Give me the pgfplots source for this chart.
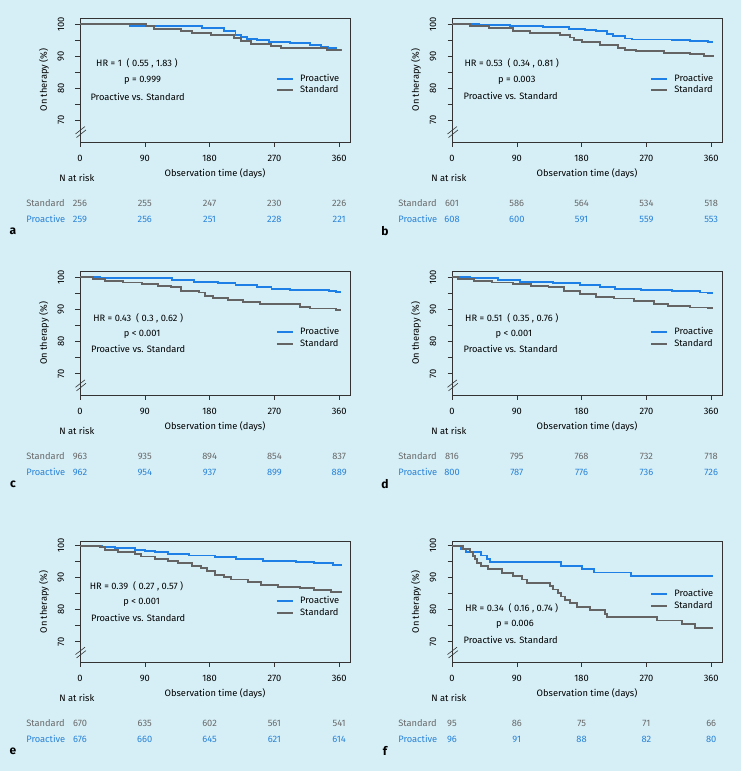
\documentclass[border=0pt]{standalone}
\usepackage{fontspec}
\setmainfont{Fira Sans}
\usepackage{pgfplots}
\pgfplotsset{compat=1.18}
\definecolor{bg}{RGB}{214,239,247}
\definecolor{pblue}{RGB}{30,128,230}
\definecolor{sgray}{RGB}{100,100,100}
\definecolor{tgray}{RGB}{105,105,105}
\definecolor{tblue}{RGB}{40,130,215}

\pgfplotsset{
 km/.style={
  scale only axis, width=270bp, height=124bp,
  xmin=0, xmax=375, ymin=63.2, ymax=101.9,
  clip=false,
  axis line style={draw=black!80, line width=0.7bp},
  tick style={draw=black!80, line width=0.6bp},
  tick align=outside, major tick length=4.5bp,
  xtick pos=bottom, ytick pos=left,
  xtick={0,90,180,270,360},
  ytick={70,75,80,85,90,95,100},
  yticklabels={70,,80,,90,,100},
  /pgf/number format/assume math mode=true,
  xticklabel style={yshift=-5.5bp},
  yticklabel style={xshift=-8bp, rotate=90, anchor=south},
  xlabel={Observation time (days)},
  ylabel={On therapy (\%)},
  xlabel style={at={([yshift=-31.5bp]axis description cs:0.5,0)}, anchor=center},
  ylabel style={at={([xshift=-36bp]axis description cs:0,0.5)}, anchor=center},
  legend image code/.code={\draw[##1] (0bp,0bp) -- (15.6bp,0bp);},
  legend cell align=left,
  legend style={draw=none, fill=none, inner sep=0pt, row sep=1.5bp,
    nodes={inner sep=0.6bp, text height=7bp, text depth=2bp},
    /tikz/every odd column/.append style={column sep=6bp}},
 },
 pro/.style={pblue, line width=1.9bp, const plot, no marks},
 std/.style={sgray, line width=1.9bp, const plot, no marks},
}

\newcommand\riskrow[8]{%
 \node[anchor=west,text=#1] at ([xshift=-57bp,yshift=-#2]axis cs:0,\ymn) {#3};
 \node[text=#1] at ([yshift=-#2]axis cs:0,\ymn) {#4};
 \node[text=#1] at ([yshift=-#2]axis cs:90,\ymn) {#5};
 \node[text=#1] at ([yshift=-#2]axis cs:180,\ymn) {#6};
 \node[text=#1] at ([yshift=-#2]axis cs:270,\ymn) {#7};
 \node[text=#1] at ([yshift=-#2]axis cs:360,\ymn) {#8};
}
\newcommand\panelextras[1]{%
 \node[anchor=west] at ([xshift=-24bp,yshift=-36bp]axis cs:0,\ymn) {N at risk};
 \node[font=\bfseries\fontsize{12bp}{14bp}\selectfont] at ([xshift=-67bp,yshift=-89bp]axis cs:0,\ymn) {#1};
 \draw[black!80, line width=0.6bp] (rel axis cs:-0.0167,0.0645) -- (rel axis cs:0.0185,0.125);
 \draw[black!80, line width=0.6bp] (rel axis cs:-0.013,0.036) -- (rel axis cs:0.022,0.097);
}

\begin{document}
\fontsize{9.3bp}{11bp}\selectfont
\begin{tikzpicture}
\path[use as bounding box, fill=bg] (0,0) rectangle (741bp,-771bp);

% ---------- a ----------
\def\ymn{63.2}
\begin{axis}[km, at={(80bp,-142bp)}, anchor=south west,
  legend style={at={(axis cs:272,84.6)}, anchor=north west}]
\addplot[pro] coordinates {(0,100)(69,99.5)(170,98.8)(200,97.9)(216,96.6)(224,96.0)(232,95.4)(246,94.9)(262,94.5)(292,94.1)(320,93.5)(335,93.0)(345,92.4)(355,91.8)(362,91.7)};
\addlegendentry{Proactive}
\addplot[std] coordinates {(0,100)(92,99.3)(103,98.5)(140,97.8)(156,97.2)(182,96.5)(214,95.6)(223,94.6)(237,93.8)(265,93.1)(279,92.5)(343,92.0)(362,92.0)};
\addlegendentry{Standard}
\node at (axis cs:79,87.7) {HR = 1\ \ ( 0.55 , 1.83 )};
\node at (axis cs:87,82.4) {p = 0.999};
\node at (axis cs:80,77.4) {Proactive vs. Standard};
\riskrow{tgray}{61bp}{Standard}{256}{255}{247}{230}{226}
\riskrow{tblue}{77bp}{Proactive}{259}{256}{251}{228}{221}
\panelextras{a}
\end{axis}

% ---------- b ----------
\def\ymn{63.2}
\begin{axis}[km, at={(452bp,-142bp)}, anchor=south west,
  legend style={at={(axis cs:275,84.6)}, anchor=north west}]
\addplot[pro] coordinates {(0,100)(38,99.8)(80,99.4)(126,99.0)(163,98.6)(185,98.2)(200,97.8)(215,96.8)(224,96.2)(240,95.5)(250,95.2)(305,95.0)(330,94.7)(355,94.4)(362,94.4)};
\addlegendentry{Proactive}
\addplot[std] coordinates {(0,100)(25,99.3)(51,98.7)(85,97.9)(108,97.2)(150,96.5)(164,95.8)(170,95.0)(180,94.3)(205,93.5)(230,92.5)(240,92.0)(255,91.6)(295,91.1)(330,90.6)(350,90.1)(362,89.8)};
\addlegendentry{Standard}
\node at (axis cs:83,87.7) {HR = 0.53\ \ ( 0.34 , 0.81 )};
\node at (axis cs:90,82.4) {p = 0.003};
\node at (axis cs:81.5,77.5) {Proactive vs. Standard};
\riskrow{tgray}{61bp}{Standard}{601}{586}{564}{534}{518}
\riskrow{tblue}{77bp}{Proactive}{608}{600}{591}{559}{553}
\panelextras{b}
\end{axis}

% ---------- c ----------
\def\ymn{63.2}
\begin{axis}[km, at={(80bp,-395.3bp)}, anchor=south west,
  legend style={at={(axis cs:272,84.6)}, anchor=north west}]
\addplot[pro] coordinates {(0,100)(28,99.7)(128,99.3)(158,98.7)(192,98.2)(216,97.6)(246,96.9)(266,96.4)(292,96.1)(346,95.7)(356,95.4)(362,95.4)};
\addlegendentry{Proactive}
\addplot[std] coordinates {(0,100)(18,99.5)(35,98.9)(60,98.4)(86,97.9)(108,97.4)(127,96.9)(140,95.8)(165,95.3)(173,94.3)(185,93.7)(205,93.0)(226,92.2)(250,91.6)(306,90.9)(320,90.3)(356,89.9)(362,89.9)};
\addlegendentry{Standard}
\node at (axis cs:80.8,87.3) {HR = 0.43\ \ ( 0.3 , 0.62 )};
\node at (axis cs:86.3,82.3) {p < 0.001};
\node at (axis cs:80.8,77.6) {Proactive vs. Standard};
\riskrow{tgray}{61bp}{Standard}{963}{935}{894}{854}{837}
\riskrow{tblue}{77bp}{Proactive}{962}{954}{937}{899}{889}
\panelextras{c}
\end{axis}

% ---------- d ----------
\def\ymn{63.2}
\begin{axis}[km, at={(452bp,-395.3bp)}, anchor=south west,
  legend style={at={(axis cs:275,84.6)}, anchor=north west}]
\addplot[pro] coordinates {(0,100)(25,99.7)(64,99.3)(95,98.7)(140,98.2)(178,97.7)(206,97.1)(227,96.4)(262,96.0)(306,95.7)(345,95.3)(355,95.1)(362,95.1)};
\addlegendentry{Proactive}
\addplot[std] coordinates {(0,100)(8,99.5)(30,99.0)(55,98.4)(85,97.9)(110,97.4)(134,96.9)(155,95.8)(178,94.8)(200,94.0)(225,93.4)(253,92.5)(280,91.6)(300,91.1)(330,90.6)(355,90.4)(362,90.4)};
\addlegendentry{Standard}
\node at (axis cs:83,87.3) {HR = 0.51\ \ ( 0.35 , 0.76 )};
\node at (axis cs:86,82.3) {p < 0.001};
\node at (axis cs:81.5,77.6) {Proactive vs. Standard};
\riskrow{tgray}{61bp}{Standard}{816}{795}{768}{732}{718}
\riskrow{tblue}{77bp}{Proactive}{800}{787}{776}{736}{726}
\panelextras{d}
\end{axis}

% ---------- e ----------
\def\ymn{63.55}
\begin{axis}[km, height=120.7bp, ymin=63.55, ymax=101.25, at={(80bp,-662.3bp)}, anchor=south west,
  legend style={at={(axis cs:272,84.4)}, anchor=north west}]
\addplot[pro] coordinates {(0,100)(30,99.5)(48,99.2)(76,98.75)(90,98.4)(104,97.9)(122,97.4)(152,96.9)(187,96.4)(217,95.8)(254,95.3)(300,94.8)(325,94.5)(352,94.0)(362,93.9)};
\addlegendentry{Proactive}
\addplot[std] coordinates {(0,100)(28,99.5)(35,98.6)(53,97.9)(76,97.4)(85,96.6)(104,95.8)(122,95.3)(136,94.5)(155,93.75)(168,93.0)(176,92.0)(187,90.9)(200,90.3)(210,89.4)(233,88.5)(251,87.8)(275,87.2)(306,86.8)(325,86.1)(348,85.4)(362,85.2)};
\addlegendentry{Standard}
\node at (axis cs:78.5,87.3) {HR = 0.39\ \ ( 0.27 , 0.57 )};
\node at (axis cs:85.5,82.3) {p < 0.001};
\node at (axis cs:80.8,77.4) {Proactive vs. Standard};
\riskrow{tgray}{61bp}{Standard}{670}{635}{602}{561}{541}
\riskrow{tblue}{77bp}{Proactive}{676}{660}{645}{621}{614}
\panelextras{e}
\end{axis}

% ---------- f ----------
\def\ymn{63.55}
\begin{axis}[km, height=120.7bp, ymin=63.55, ymax=101.25, at={(452bp,-662.3bp)}, anchor=south west,
  legend style={at={(axis cs:275,86.5)}, anchor=north west}]
\addplot[pro] coordinates {(0,100)(13,99.0)(20,97.9)(40,96.9)(49,95.8)(53,94.8)(152,93.75)(181,92.7)(197,91.6)(248,90.5)(362,90.5)};
\addlegendentry{Proactive}
\addplot[std] coordinates {(0,100)(15,99.0)(25,97.9)(29,96.8)(32,95.8)(35,94.7)(40,93.7)(50,92.6)(70,91.5)(85,90.5)(97,89.4)(104,88.4)(136,87.3)(140,86.3)(147,85.2)(152,84.1)(157,83.0)(164,82.0)(174,80.9)(192,79.8)(212,78.7)(215,77.7)(285,76.6)(320,75.5)(337,74.4)(362,74.4)};
\addlegendentry{Standard}
\node at (axis cs:83,80.4) {HR = 0.34\ \ ( 0.16 , 0.74 )};
\node at (axis cs:87.5,75.5) {p = 0.006};
\node at (axis cs:81.5,70.5) {Proactive vs. Standard};
\riskrow{tgray}{61bp}{Standard}{95}{86}{75}{71}{66}
\riskrow{tblue}{77bp}{Proactive}{96}{91}{88}{82}{80}
\panelextras{f}
\end{axis}
\end{tikzpicture}
\end{document}
